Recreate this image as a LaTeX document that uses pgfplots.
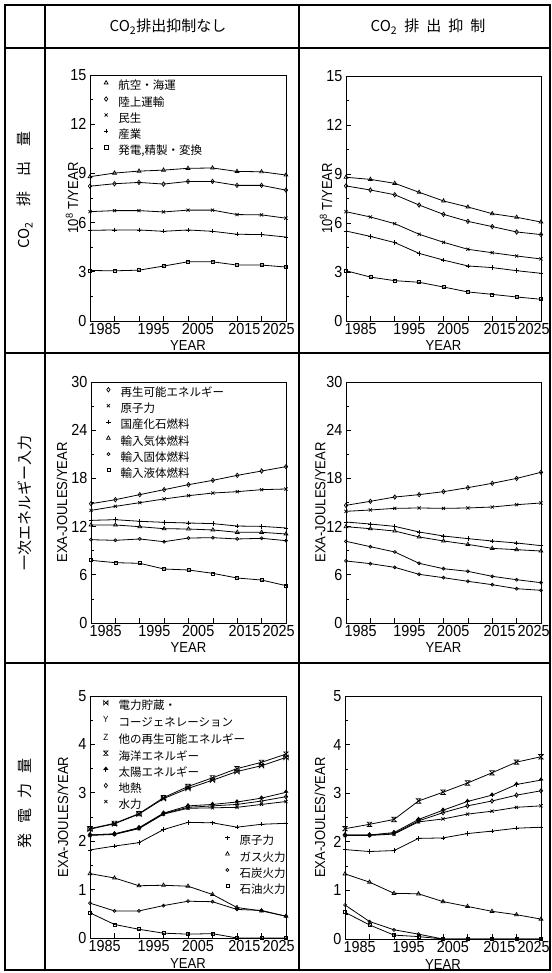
\documentclass[border=0pt]{standalone}
\usepackage{fontspec}
\setmainfont{Liberation Sans}[FakeStretch=0.9]
\newfontfamily\cjk{Noto Sans CJK JP}
\usepackage{pgfplots}
\usepackage{pgfplotstable}
\pgfplotsset{compat=1.18}

\pgfdeclareplotmark{hglass}{%
 \pgfpathmoveto{\pgfqpoint{-\pgfplotmarksize}{\pgfplotmarksize}}%
 \pgfpathlineto{\pgfqpoint{\pgfplotmarksize}{\pgfplotmarksize}}%
 \pgfpathlineto{\pgfqpoint{-\pgfplotmarksize}{-\pgfplotmarksize}}%
 \pgfpathlineto{\pgfqpoint{\pgfplotmarksize}{-\pgfplotmarksize}}%
 \pgfpathclose\pgfusepathqstroke}
\pgfdeclareplotmark{bowtie}{%
 \pgfpathmoveto{\pgfqpoint{-\pgfplotmarksize}{\pgfplotmarksize}}%
 \pgfpathlineto{\pgfqpoint{-\pgfplotmarksize}{-\pgfplotmarksize}}%
 \pgfpathlineto{\pgfqpoint{\pgfplotmarksize}{\pgfplotmarksize}}%
 \pgfpathlineto{\pgfqpoint{\pgfplotmarksize}{-\pgfplotmarksize}}%
 \pgfpathclose\pgfusepathqstroke}
\pgfdeclareplotmark{sunarrow}{%
 \pgfpathmoveto{\pgfqpoint{0pt}{\pgfplotmarksize}}%
 \pgfpathlineto{\pgfqpoint{0.8\pgfplotmarksize}{0pt}}%
 \pgfpathlineto{\pgfqpoint{-0.8\pgfplotmarksize}{0pt}}%
 \pgfpathclose\pgfusepathqfillstroke
 \pgfpathmoveto{\pgfqpoint{0pt}{0pt}}%
 \pgfpathlineto{\pgfqpoint{0pt}{-\pgfplotmarksize}}%
 \pgfusepathqstroke}

\pgfplotstableread{
yr a b c d e
1985 8.80 8.22 6.67 5.53 3.08
1990 9.02 8.37 6.73 5.55 3.06
1995 9.14 8.45 6.73 5.55 3.10
2000 9.20 8.35 6.65 5.47 3.35
2005 9.31 8.51 6.76 5.55 3.61
2010 9.33 8.51 6.76 5.47 3.61
2015 9.12 8.27 6.49 5.29 3.41
2020 9.10 8.27 6.47 5.27 3.41
2025 8.90 7.98 6.27 5.12 3.29
}\tTL
\pgfplotstableread{
yr a b c d e
1985 8.80 8.27 6.69 5.51 3.08
1990 8.67 8.02 6.37 5.18 2.69
1995 8.43 7.73 5.96 4.80 2.47
2000 7.88 7.10 5.31 4.14 2.37
2005 7.35 6.53 4.82 3.73 2.08
2010 6.98 6.10 4.39 3.37 1.78
2015 6.57 5.78 4.18 3.27 1.63
2020 6.35 5.45 3.98 3.08 1.47
2025 6.06 5.29 3.80 2.92 1.33
}\tTR
\pgfplotstableread{
yr a b c d e f
1985 14.85 14.02 12.78 12.20 10.37 7.80
1990 15.35 14.52 12.86 12.20 10.29 7.51
1995 15.98 14.98 12.66 11.99 10.46 7.43
2000 16.60 15.44 12.53 11.74 10.12 6.72
2005 17.22 15.85 12.45 11.70 10.58 6.60
2010 17.76 16.18 12.37 11.58 10.62 6.18
2015 18.38 16.35 12.07 11.29 10.46 5.60
2020 18.92 16.60 12.03 11.29 10.54 5.35
2025 19.46 16.68 11.83 11.08 10.25 4.65
}\tML
\pgfplotstableread{
yr a b c d e f
1985 14.65 13.90 12.57 11.99 10.17 7.72
1990 15.15 14.07 12.32 11.74 9.50 7.39
1995 15.68 14.27 12.03 11.45 8.84 6.93
2000 15.98 14.32 11.33 10.71 7.43 6.06
2005 16.35 14.27 10.83 10.21 6.76 5.64
2010 16.85 14.32 10.50 9.79 6.43 5.19
2015 17.39 14.44 10.21 9.29 5.81 4.77
2020 18.00 14.73 9.96 9.13 5.39 4.27
2025 18.76 14.94 9.63 8.96 5.02 4.07
}\tMR
\pgfplotstableread{
yr a b c d e f g h i
1985 2.26 2.25 2.13 2.13 2.12 1.82 1.33 0.72 0.52
1990 2.37 2.36 2.15 2.15 2.14 1.90 1.24 0.56 0.28
1995 2.57 2.56 2.28 2.27 2.26 1.97 1.08 0.56 0.18
2000 2.90 2.88 2.58 2.57 2.56 2.24 1.09 0.67 0.10
2005 3.13 3.09 2.73 2.70 2.68 2.39 1.07 0.76 0.08
2010 3.31 3.26 2.76 2.73 2.69 2.38 0.90 0.75 0.09
2015 3.50 3.44 2.81 2.76 2.70 2.29 0.63 0.59 0.00
2020 3.63 3.56 2.89 2.83 2.76 2.35 0.56 0.57 0.00
2025 3.80 3.73 3.01 2.92 2.82 2.37 0.45 0.45 0.00
}\tBL
\pgfplotstableread{
yr a b c d e f g h
1985 2.27 2.14 2.14 2.13 1.84 1.34 0.70 0.55
1990 2.36 2.14 2.14 2.13 1.80 1.17 0.36 0.29
1995 2.46 2.19 2.17 2.16 1.82 0.94 0.19 0.08
2000 2.84 2.46 2.43 2.41 2.07 0.93 0.10 0.05
2005 3.02 2.65 2.60 2.47 2.08 0.77 0.00 0.00
2010 3.21 2.83 2.74 2.57 2.17 0.67 0.00 0.00
2015 3.42 2.96 2.84 2.63 2.22 0.57 0.00 0.00
2020 3.64 3.18 2.96 2.71 2.28 0.50 0.00 0.00
2025 3.75 3.27 3.05 2.74 2.30 0.41 0.00 0.00
}\tBR

\pgfplotsset{
 panel/.style={
  scale only axis, width=195pt,
  xmin=1985, xmax=2025, ymin=0, clip=false,
  axis line style={line width=0.9pt},
  tick align=inside, tick pos=left,
  major tick length=5pt, minor tick length=3pt,
  every tick/.style={black, line width=0.7pt},
  minor y tick num=1,
  xtick={1985,1990,...,2025}, xticklabels={},
  extra x ticks={1988,1998,2007,2016.5,2023.5},
  extra x tick labels={1985,1995,2005,2015,2025},
  extra x tick style={major tick length=0pt},
  ticklabel style={font=\fontsize{16}{16}\selectfont},
  xticklabel style={yshift=1pt},
  /pgf/number format/assume math mode=true,
  label style={font=\fontsize{14.5}{14.5}\selectfont},
  xlabel={YEAR},
  xlabel style={at={(axis description cs:0.5,0)}, anchor=center, yshift=-25pt},
  every axis plot/.append style={black, line width=0.8pt, mark size=2.2pt, mark options={solid, line width=0.7pt}},
  legend cell align=left,
  legend style={draw=none, fill=none, font=\cjk\fontsize{11.5}{11.5}\selectfont, row sep=4pt, column sep=10pt, inner sep=0pt, nodes={inner sep=0pt, text height=9pt, text depth=3pt}, anchor=north west},
  legend image code/.code={\draw[##1] plot coordinates {(0pt,4pt)};},
 },
 sm/.style={mark size=1.5pt},
}

\begin{document}
\begin{tikzpicture}[x=1pt,y=1pt]
\useasboundingbox (0,0) rectangle (551,-973);
% table frame
\draw[line width=1.1pt] (5,-5) rectangle (550,-970);
\draw[line width=1.1pt] (5,-48) -- (550,-48);
\draw[line width=1.1pt] (5,-353) -- (550,-353);
\draw[line width=1.1pt] (5,-663) -- (550,-663);
\draw[line width=1.1pt] (45,-5) -- (45,-970);
\draw[line width=1.1pt] (299,-5) -- (299,-970);
% headers
\node[font=\cjk\fontsize{15}{15}\selectfont] at (168,-27) {CO\textsubscript{2}排出抑制なし};
\node[font=\cjk\fontsize{15}{15}\selectfont] at (428,-27) {CO\textsubscript{2}\hspace{7pt}排\hspace{7pt}出\hspace{7pt}抑\hspace{7pt}制};
\node[rotate=90, font=\cjk\fontsize{15}{15}\selectfont] at (25,-190) {CO\textsubscript{2}\hspace{15pt}排\hspace{15pt}出\hspace{15pt}量};
\node[rotate=90, font=\cjk\fontsize{15}{15}\selectfont] at (25,-503) {一次エネルギー入力};
\node[rotate=90, font=\cjk\fontsize{15}{15}\selectfont] at (25,-803) {発\hspace{10pt}電\hspace{10pt}力\hspace{10pt}量};

% ---- top left
\begin{axis}[panel, at={(90pt,-321pt)}, anchor=south west, width=196pt, height=246pt,
  ymax=15, ytick={0,3,...,15},
  ylabel={10\textsuperscript{8} T/YEAR},
  ylabel style={at={(axis description cs:-0.092,0.5)}, anchor=center},
  legend style={at={(axis description cs:0.07,0.978)}}]
\addlegendimage{black, mark=triangle}\addlegendentry{航空・海運}
\addlegendimage{black, mark=diamond}\addlegendentry{陸上運輸}
\addlegendimage{black, mark=x}\addlegendentry{民生}
\addlegendimage{black, mark=+}\addlegendentry{産業}
\addlegendimage{black, mark=square}\addlegendentry{発電,精製・変換}
\addplot[mark=triangle, forget plot] table[x=yr,y=a]{\tTL};
\addplot[mark=diamond, forget plot] table[x=yr,y=b]{\tTL};
\addplot[mark=x, forget plot] table[x=yr,y=c]{\tTL};
\addplot[mark=+, forget plot] table[x=yr,y=d]{\tTL};
\addplot[mark=square, sm, forget plot] table[x=yr,y=e]{\tTL};
\end{axis}

% ---- top right
\begin{axis}[panel, at={(346pt,-321pt)}, anchor=south west, width=195pt, height=245pt,
  ymax=15, ytick={0,3,...,15},
  ylabel={10\textsuperscript{8} T/YEAR},
  ylabel style={at={(axis description cs:-0.103,0.5)}, anchor=center}]
\addplot[mark=triangle] table[x=yr,y=a]{\tTR};
\addplot[mark=diamond] table[x=yr,y=b]{\tTR};
\addplot[mark=x] table[x=yr,y=c]{\tTR};
\addplot[mark=+] table[x=yr,y=d]{\tTR};
\addplot[mark=square, sm] table[x=yr,y=e]{\tTR};
\end{axis}

% ---- middle left
\begin{axis}[panel, at={(91pt,-623pt)}, anchor=south west, width=195pt, height=241pt,
  ymax=30, ytick={0,6,...,30},
  ylabel={EXA-JOULES/YEAR},
  ylabel style={at={(axis description cs:-0.149,0.5)}, anchor=center},
  legend style={at={(axis description cs:0.077,0.978)}}]
\addlegendimage{black, mark=diamond}\addlegendentry{再生可能エネルギー}
\addlegendimage{black, mark=x}\addlegendentry{原子力}
\addlegendimage{black, mark=+}\addlegendentry{国産化石燃料}
\addlegendimage{black, mark=triangle}\addlegendentry{輸入気体燃料}
\addlegendimage{black, mark=o, mark size=1.5pt}\addlegendentry{輸入固体燃料}
\addlegendimage{black, mark=square, mark size=1.5pt}\addlegendentry{輸入液体燃料}
\addplot[mark=diamond, forget plot] table[x=yr,y=a]{\tML};
\addplot[mark=x, forget plot] table[x=yr,y=b]{\tML};
\addplot[mark=+, forget plot] table[x=yr,y=c]{\tML};
\addplot[mark=triangle, forget plot] table[x=yr,y=d]{\tML};
\addplot[mark=o, sm, forget plot] table[x=yr,y=e]{\tML};
\addplot[mark=square, sm, forget plot] table[x=yr,y=f]{\tML};
\end{axis}

% ---- middle right
\begin{axis}[panel, at={(346pt,-623pt)}, anchor=south west, width=195pt, height=241pt,
  ymax=30, ytick={0,6,...,30},
  ylabel={EXA-JOULES/YEAR},
  ylabel style={at={(axis description cs:-0.133,0.5)}, anchor=center}]
\addplot[mark=diamond] table[x=yr,y=a]{\tMR};
\addplot[mark=x] table[x=yr,y=b]{\tMR};
\addplot[mark=+] table[x=yr,y=c]{\tMR};
\addplot[mark=triangle] table[x=yr,y=d]{\tMR};
\addplot[mark=o, sm] table[x=yr,y=e]{\tMR};
\addplot[mark=o, sm] table[x=yr,y=f]{\tMR};
\end{axis}

% ---- bottom left
\begin{axis}[panel, at={(90pt,-938pt)}, anchor=south west, width=196pt, height=242pt,
  ymax=5, ytick={0,1,...,5},
  ylabel={EXA-JOULES/YEAR},
  ylabel style={at={(axis description cs:-0.138,0.5)}, anchor=center},
  legend style={at={(axis description cs:0.066,0.982)}}]
\addlegendimage{black, mark=bowtie}\addlegendentry{電力貯蔵・}
\addlegendimage{black, mark=text, text mark={\fontsize{9}{9}\selectfont Y}}\addlegendentry{コージェネレーション}
\addlegendimage{black, mark=text, text mark={\fontsize{9}{9}\selectfont Z}}\addlegendentry{他の再生可能エネルギー}
\addlegendimage{black, mark=hglass}\addlegendentry{海洋エネルギー}
\addlegendimage{black, mark=sunarrow, mark options={fill=black}}\addlegendentry{太陽エネルギー}
\addlegendimage{black, mark=diamond}\addlegendentry{地熱}
\addlegendimage{black, mark=x}\addlegendentry{水力}
\addplot[mark=hglass, forget plot] table[x=yr,y=a]{\tBL};
\addplot[mark=bowtie, forget plot] table[x=yr,y=b]{\tBL};
\addplot[mark=sunarrow, mark options={fill=black}, forget plot] table[x=yr,y=c]{\tBL};
\addplot[mark=diamond, forget plot] table[x=yr,y=d]{\tBL};
\addplot[mark=x, forget plot] table[x=yr,y=e]{\tBL};
\addplot[mark=+, forget plot] table[x=yr,y=f]{\tBL};
\addplot[mark=triangle, forget plot] table[x=yr,y=g]{\tBL};
\addplot[mark=o, sm, forget plot] table[x=yr,y=h]{\tBL};
\addplot[mark=square, sm, forget plot] table[x=yr,y=i]{\tBL};
\end{axis}
\begin{axis}[panel, hide axis, at={(90pt,-938pt)}, anchor=south west, width=196pt, height=242pt,
  ymax=5, legend style={at={(axis description cs:0.689,0.424)}}]
\addlegendimage{black, mark=+}\addlegendentry{原子力}
\addlegendimage{black, mark=triangle}\addlegendentry{ガス火力}
\addlegendimage{black, mark=o, mark size=1.5pt}\addlegendentry{石炭火力}
\addlegendimage{black, mark=square, mark size=1.5pt}\addlegendentry{石油火力}
\end{axis}

% ---- bottom right
\begin{axis}[panel, at={(345pt,-939pt)}, anchor=south west, width=196pt, height=243pt,
  ymax=5, ytick={0,1,...,5},
  ylabel={EXA-JOULES/YEAR},
  ylabel style={at={(axis description cs:-0.128,0.5)}, anchor=center}]
\addplot[mark=hglass] table[x=yr,y=a]{\tBR};
\addplot[mark=sunarrow, mark options={fill=black}] table[x=yr,y=b]{\tBR};
\addplot[mark=diamond] table[x=yr,y=c]{\tBR};
\addplot[mark=x] table[x=yr,y=d]{\tBR};
\addplot[mark=+] table[x=yr,y=e]{\tBR};
\addplot[mark=triangle] table[x=yr,y=f]{\tBR};
\addplot[mark=o, sm] table[x=yr,y=g]{\tBR};
\addplot[mark=square, sm] table[x=yr,y=h]{\tBR};
\end{axis}
\end{tikzpicture}
\end{document}
